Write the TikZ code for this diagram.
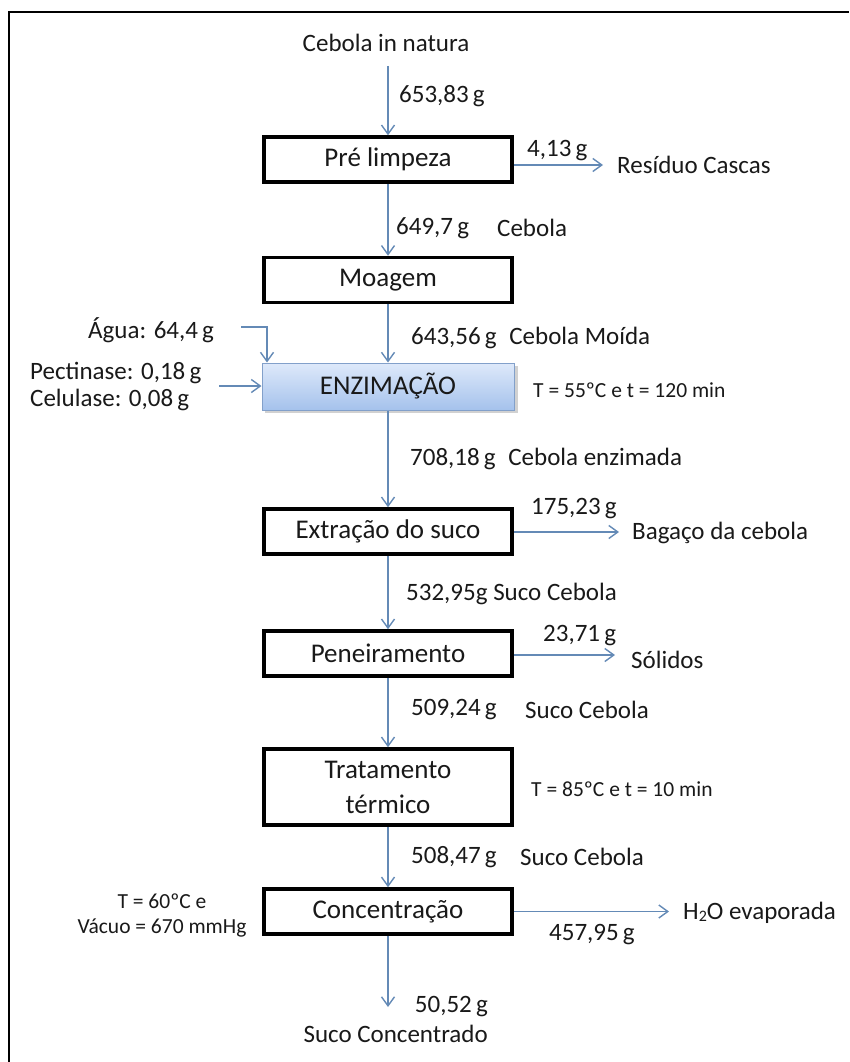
\documentclass[tikz,border=0pt]{standalone}
\usepackage{fontspec}
\setmainfont{Carlito}
\usetikzlibrary{arrows.meta}
\definecolor{arrowc}{RGB}{100,138,182}
\definecolor{txt}{RGB}{25,25,25}
\definecolor{enztop}{RGB}{222,233,250}
\definecolor{enzbot}{RGB}{165,194,236}
\definecolor{enzline}{RGB}{130,160,202}
\begin{document}
\begin{tikzpicture}[x=1pt,y=-1pt,
  procbox/.style={draw=black, line width=3.5pt, fill=white, minimum width=248pt, minimum height=45pt, inner sep=0pt, font=\fontsize{27}{35}\selectfont, text=txt, align=center},
  enzbox/.style={draw=enzline, line width=1pt, top color=enztop, bottom color=enzbot, minimum width=252pt, minimum height=47pt, inner sep=0pt, font=\fontsize{27}{34}\selectfont, text=txt},
  lbl/.style={anchor=west, inner sep=0pt, font=\fontsize{25}{30}\selectfont, text=txt},
  note/.style={anchor=west, inner sep=0pt, font=\fontsize{21.5}{25}\selectfont, text=txt},
  flow/.style={draw=arrowc, line width=1.4pt, -{Straight Barb[length=9pt,width=13pt,line width=1.4pt]}},
]
\useasboundingbox (0,0) rectangle (849,1062);
% frame
\draw[line width=2.5pt] (9,1062) -- (9,12) -- (849,12);

% process boxes
\node[procbox] (pre) at (388,159.5) {Pré limpeza};
\node[procbox] (moa) at (388,280) {Moagem};
\fill[black!18] (265,366) rectangle (518,413);
\node[enzbox] (enz) at (388,386.5) {ENZIMAÇÃO};
\node[procbox] (ext) at (388,531.5) {Extração do suco};
\node[procbox] (pen) at (388,653.5) {Peneiramento};
\node[procbox, minimum height=76pt] (tra) at (388,787) {Tratamento\\térmico};
\node[procbox] (con) at (388,911.5) {Concentração};

% top input
\node[lbl, anchor=center] (cin) at (386,43) {Cebola in natura};
\coordinate (cinb) at (388,66);
\draw[flow] (cinb) -- (pre.north);
\node[lbl] (l1) at (399,96) {653,83\,g};

% Pre limpeza side
\coordinate (r1) at (603,165);
\draw[flow] (r1 -| pre.east) -- (r1);
\node[lbl] (l2) at (527,151) {4,13\,g};
\node[lbl] (l3) at (617,165) {Resíduo Cascas};

% Pre -> Moagem
\draw[flow] (pre.south) -- (moa.north);
\node[lbl] (l4) at (396,228) {649,7\,g};
\node[lbl] (l5) at (497,228) {Cebola};

% Moagem -> Enz
\draw[flow] (moa.south) -- (enz.north);
\node[lbl] (l6) at (411,338) {643,56\,g\; Cebola Moída};

% Agua
\node[lbl] (agua) at (88,330) {Água: 64,4\,g};
\coordinate (ag) at (241,327);
\coordinate (agc) at (267,327);
\draw[flow] (ag) -- (agc) -- (agc |- enz.north);

% Pectinase / Celulase
\node[lbl] (pec) at (30,373) {Pectinase: 0,18\,g};
\node[lbl] (cel) at (30,400) {Celulase: 0,08\,g};
\coordinate (pc) at (219,386);
\draw[flow] (pc) -- (pc -| enz.west);

\node[note] (n1) at (533,390) {T = 55ºC e t = 120 min};

% Enz -> Extracao
\draw[flow] (enz.south) -- (ext.north);
\node[lbl] (l7) at (410,459) {708,18\,g\; Cebola enzimada};

% Extracao side
\coordinate (r2) at (619,532);
\draw[flow] (r2 -| ext.east) -- (r2);
\node[lbl] (l8) at (531,509) {175,23\,g};
\node[lbl] (l9) at (632,533) {Bagaço da cebola};

% Extracao -> Peneiramento
\draw[flow] (ext.south) -- (pen.north);
\node[lbl] (l10) at (406,594) {532,95g Suco Cebola};

% Peneiramento side
\coordinate (r3) at (615,655);
\draw[flow] (r3 -| pen.east) -- (r3);
\node[lbl] (l11) at (543,636) {23,71\,g};
\node[lbl] (l12) at (631,660) {Sólidos};

% Peneiramento -> Tratamento
\draw[flow] (pen.south) -- (tra.north);
\node[lbl] (l13) at (411,710) {509,24\,g};
\node[lbl] (l14) at (525,710) {Suco Cebola};

\node[note] (n2) at (531,789) {T = 85ºC e t = 10 min};

% Tratamento -> Concentracao
\draw[flow] (tra.south) -- (con.north);
\node[lbl] (l15) at (411,857) {508,47\,g};
\node[lbl] (l16) at (520,857) {Suco Cebola};

\node[note, anchor=center, align=center] (n3) at (162,915) {T = 60ºC e\\Vácuo = 670 mmHg};

% Concentracao side
\coordinate (r4) at (669,911.5);
\draw[flow] (con.east) -- (r4);
\node[lbl] (l17) at (683,913) {H\raisebox{-1.5pt}{\fontsize{16}{16}\selectfont 2}O evaporada};
\node[lbl] (l18) at (549,935) {457,95\,g};

% Concentracao -> output
\coordinate (out) at (388,1007);
\draw[flow] (con.south) -- (out);
\node[lbl, anchor=east, align=right] (l19) at (488,1019) {50,52\,g\\Suco Concentrado};
\end{tikzpicture}
\end{document}
